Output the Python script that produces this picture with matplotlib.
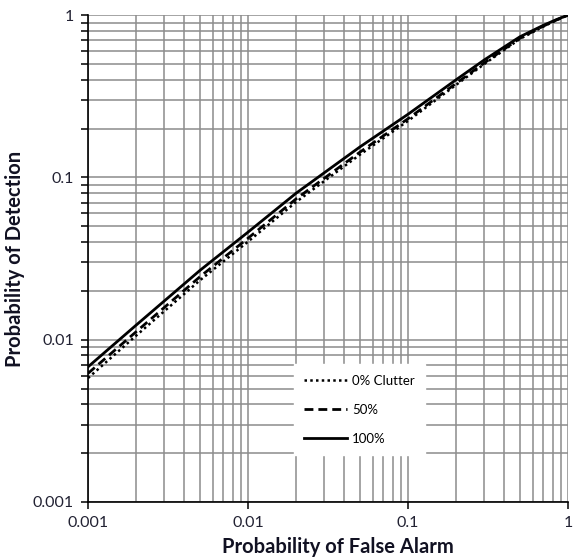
import numpy as np
import matplotlib.pyplot as plt
from matplotlib.ticker import LogLocator, FixedFormatter, FixedLocator, NullFormatter

# probability of false alarm (x) and detection (y) for three clutter levels
pfa = [0.001, 0.002, 0.005, 0.01, 0.02, 0.05, 0.1, 0.2, 0.3, 0.5, 0.7, 0.85, 1.0]
pd_0 = [0.0058, 0.0106, 0.0232, 0.0402, 0.0706, 0.138, 0.223, 0.372, 0.500, 0.713, 0.850, 0.932, 1.0]
pd_50 = [0.0062, 0.0112, 0.0244, 0.0422, 0.0738, 0.143, 0.230, 0.380, 0.508, 0.720, 0.855, 0.935, 1.0]
pd_100 = [0.0068, 0.0123, 0.0267, 0.046, 0.080, 0.154, 0.245, 0.400, 0.530, 0.735, 0.865, 0.940, 1.0]
labels = ['0% Clutter', '50%', '100%']

decades = [0.001, 0.01, 0.1, 1]
decade_labels = ['0.001', '0.01', '0.1', '1']

plt.rcParams['font.family'] = ['Lato', 'DejaVu Sans']

fig = plt.figure(figsize=(5.73, 5.60), dpi=100)
ax = fig.add_axes([0.1536, 0.1036, 0.8377, 0.8694])

ax.plot(pfa, pd_0, color='black', lw=1.8, ls=(0, (1, 1.3)), label=labels[0])
ax.plot(pfa, pd_50, color='black', lw=2.0, ls=(0, (3.2, 1.8)), label=labels[1])
ax.plot(pfa, pd_100, color='black', lw=2.0, ls='-', label=labels[2])

ax.set_xscale('log')
ax.set_yscale('log')
ax.set_xlim(0.001, 1)
ax.set_ylim(0.001, 1)

ax.xaxis.set_major_locator(FixedLocator(decades))
ax.yaxis.set_major_locator(FixedLocator(decades))
ax.xaxis.set_major_formatter(FixedFormatter(decade_labels))
ax.yaxis.set_major_formatter(FixedFormatter(decade_labels))
ax.xaxis.set_minor_locator(LogLocator(base=10, subs=np.arange(2, 10)))
ax.yaxis.set_minor_locator(LogLocator(base=10, subs=np.arange(2, 10)))
ax.xaxis.set_minor_formatter(NullFormatter())
ax.yaxis.set_minor_formatter(NullFormatter())

ax.grid(True, which='both', color='#8c8c8c', lw=1.1)
ax.set_axisbelow(True)

for s in ['top', 'right']:
    ax.spines[s].set_visible(False)
for s in ['left', 'bottom']:
    ax.spines[s].set_color('black')
    ax.spines[s].set_linewidth(1.2)

ax.tick_params(which='major', direction='out', length=5, width=1.1,
               labelsize=11.5, labelcolor='#222233', pad=5)
ax.tick_params(axis='y', which='minor', direction='out', length=5, width=1.1)
ax.tick_params(axis='x', which='minor', length=0)

ax.set_xlabel('Probability of False Alarm', fontsize=14.5, fontweight='bold',
              color='#111122')
ax.set_ylabel('Probability of Detection', fontsize=14.5, fontweight='bold',
              labelpad=6, color='#111122')
ax.xaxis.set_label_coords(0.52, -0.072)

leg = ax.legend(loc='lower left', bbox_to_anchor=(0.415, 0.082), frameon=True,
                fontsize=9.5, handlelength=3.2, handletextpad=0.4,
                labelspacing=1.3, borderpad=0.8, fancybox=False)
leg.get_frame().set_edgecolor('white')
leg.get_frame().set_facecolor('white')
leg.get_frame().set_alpha(1)

fig.savefig('out.png', dpi=100)
